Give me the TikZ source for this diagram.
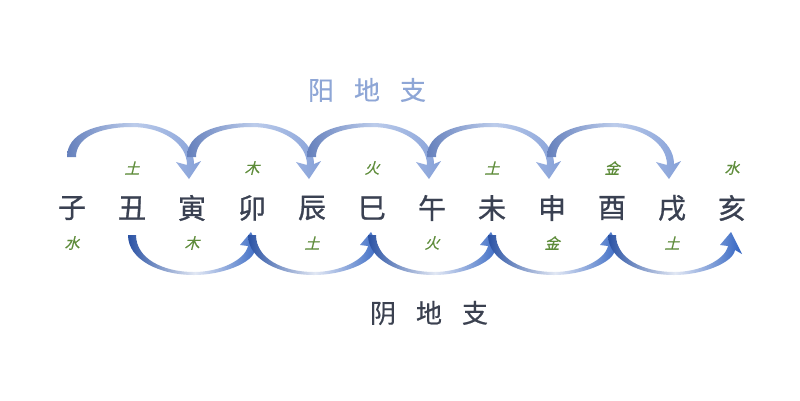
\documentclass[tikz,border=0pt]{standalone}
\usepackage{fontspec}
\usetikzlibrary{calc}
\newfontfamily\cjk[FakeBold=0.4]{Noto Sans CJK SC}
\newfontfamily\cjkb[FakeBold=0.9]{Noto Sans CJK SC}
\newfontfamily\cjkit[FakeSlant=0.25,FakeBold=0.3]{Noto Sans CJK SC}
\definecolor{branchcol}{HTML}{3A4152}
\definecolor{elemcol}{HTML}{5E8C3A}
\definecolor{yangcol}{HTML}{8EA6D6}
\definecolor{yinttl}{HTML}{3B4150}
\definecolor{upL}{HTML}{6580BC}
\definecolor{upM}{HTML}{BCCCEB}
\definecolor{upR}{HTML}{85A0D8}
\definecolor{loL}{HTML}{2A52A4}
\definecolor{loM}{HTML}{E2E8F4}
\definecolor{loR}{HTML}{3163C2}
\tikzset{
  branch/.style={font=\cjkb\fontsize{28}{28}\selectfont, text=branchcol, inner sep=0pt},
  elem/.style={font=\cjkit\fontsize{15}{15}\selectfont, text=elemcol, inner sep=0pt},
  ttl/.style={font=\cjk\fontsize{26}{26}\selectfont, inner sep=0pt},
  uparc/.style={left color=upL, right color=upR, middle color=upM, draw=none},
  loarc/.style={left color=loL, right color=loR, middle color=loM, draw=none}
}
\newcommand\toparc[2]{%
  \shade[uparc] ($(#1)+(-5,-51)$) .. controls ($(#1)+(-5,-74)$) and ($(#1)+(22,-85)$) .. ($(#1)+(60,-85)$)
    .. controls ($(#2)+(-27,-85)$) and ($(#2)+(2,-68)$) .. ($(#2)+(2,-44)$)
    -- ($(#2)+(9,-47)$) -- ($(#2)+(-3,-29)$) -- ($(#2)+(-16,-46)$) -- ($(#2)+(-5,-43)$)
    .. controls ($(#2)+(-5,-65)$) and ($(#2)+(-30,-81)$) .. ($(#1)+(60,-81)$)
    .. controls ($(#1)+(26,-81)$) and ($(#1)+(4,-70)$) .. ($(#1)+(4,-51)$) -- cycle;}
\newcommand\botarc[2]{%
  \shade[loarc] ($(#1)+(-4,27)$) .. controls ($(#1)+(-4,52)$) and ($(#1)+(28,67)$) .. ($(#1)+(62,67)$)
    .. controls ($(#2)+(-30,67)$) and ($(#2)+(1,55)$) .. ($(#2)+(3,42)$)
    -- ($(#2)+(10,46)$) -- ($(#2)+(-1,24)$) -- ($(#2)+(-12,37)$) -- ($(#2)+(-4,38)$)
    .. controls ($(#2)+(-7,52)$) and ($(#2)+(-32,64)$) .. ($(#1)+(62,64)$)
    .. controls ($(#1)+(30,64)$) and ($(#1)+(4,50)$) .. ($(#1)+(4,27)$) -- cycle;}
\begin{document}
\begin{tikzpicture}[x=1pt,y=-1pt]
\useasboundingbox[fill=white] (0,0) rectangle (800,400);
% branches
\foreach \i/\c in {0/子,1/丑,2/寅,3/卯,4/辰,5/巳,6/午,7/未,8/申,9/酉,10/戌,11/亥}{
  \node[branch] (b\i) at (72+60*\i,208) {\c};
}
% elements above (odd) and below (even)
\foreach \i/\c in {1/土,3/木,5/火,7/土,9/金,11/水}{
  \node[elem] (e\i) at (72+60*\i,168) {\c};
}
\foreach \i/\c in {0/水,2/木,4/土,6/火,8/金,10/土}{
  \node[elem] (e\i) at (72+60*\i,243) {\c};
}
% yang arcs
\toparc{b0}{b2}
\toparc{b2}{b4}
\toparc{b4}{b6}
\toparc{b6}{b8}
\toparc{b8}{b10}
% yin arcs
\botarc{b1}{b3}
\botarc{b3}{b5}
\botarc{b5}{b7}
\botarc{b7}{b9}
\botarc{b9}{b11}
% titles
\node[ttl, text=yangcol] (yang) at (367,90) {阳\hspace{20pt}地\hspace{20pt}支};
\node[ttl, text=yinttl] (yin) at (429,313) {阴\hspace{20pt}地\hspace{20pt}支};
\end{tikzpicture}
\end{document}
